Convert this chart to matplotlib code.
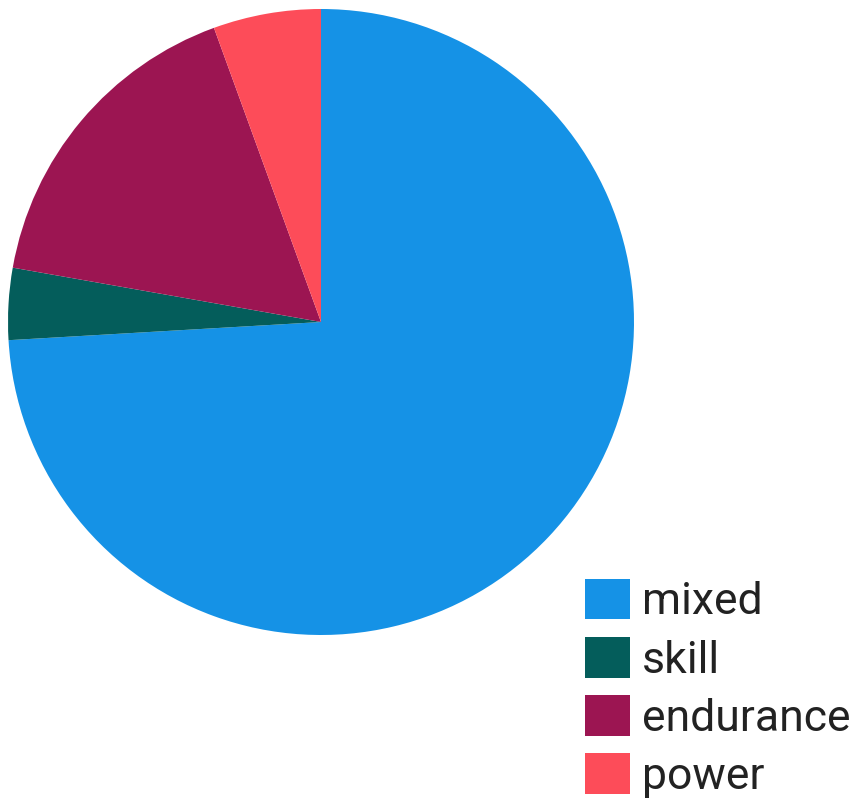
import matplotlib.pyplot as plt

# workout types and counts
labels = ["mixed", "skill", "endurance", "power"]
counts = [40, 2, 9, 3]
colors = ["#1592E6", "#045D5B", "#9C1552", "#FD4C59"]

fig = plt.figure(figsize=(8.58, 8.06), dpi=100)
ax = fig.add_axes([8 / 858, 171 / 806, 626 / 858, 626 / 806])

wedges, _ = ax.pie(counts, colors=colors, startangle=90, counterclock=False,
                   wedgeprops=dict(linewidth=0))
ax.set_xlim(-1, 1)
ax.set_ylim(-1, 1)
ax.set_aspect("equal")

fs = 32
leg = fig.legend(wedges, labels, loc="upper left",
                 bbox_to_anchor=(585 / 858, 1 - 579 / 806),
                 frameon=False, borderpad=0, borderaxespad=0,
                 handlelength=1.02, handleheight=1.02,
                 handletextpad=0.27, labelspacing=0.31,
                 prop=dict(family="Roboto", size=fs))
for t in leg.get_texts():
    t.set_color("#222222")

plt.savefig("out.png", dpi=100)
